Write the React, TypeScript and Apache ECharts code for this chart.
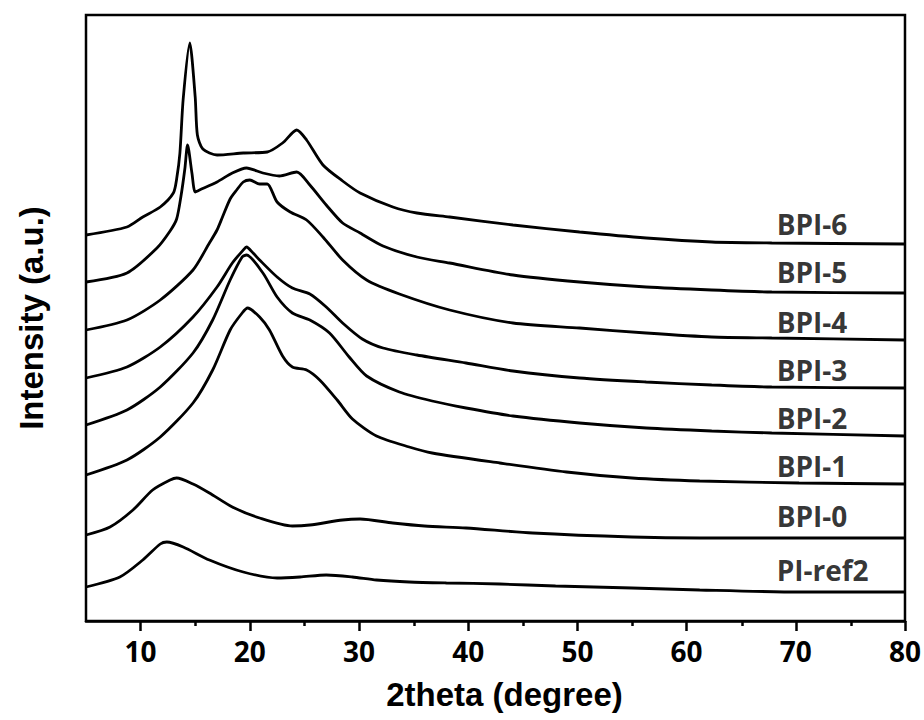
import React, { useEffect, useRef } from "react";
import * as echarts from "echarts";

const X_TICKS = [10, 20, 30, 40, 50, 60, 70, 80];
const X_MINOR = [15, 25, 35, 45, 55, 65, 75];

const SERIES_NAMES = ["BPI-6", "BPI-5", "BPI-4", "BPI-3", "BPI-2", "BPI-1", "BPI-0", "PI-ref2"];
const LABEL_THETA = 68.2;
const LABEL_LEVELS = [397, 349, 299, 251, 203, 155, 105, 51];

const BPI6: [number, number][] = [
  [5, 386], [8.75, 394], [10.2, 404], [11.8, 414], [13.0, 428], [13.3, 442], [13.6, 468],
  [13.9, 522], [14.5, 578], [15.0, 524], [15.2, 486], [15.7, 472], [17.0, 466], [19.4, 468],
  [21.6, 469], [23.0, 478], [24.3, 491], [25.2, 481], [26.7, 456], [28.5, 440], [30.1, 428],
  [33.1, 414], [35.3, 408], [38.3, 404], [44.1, 396], [50.2, 389], [56.3, 383], [62.3, 379],
  [67.8, 378], [80, 377],
];
const BPI5: [number, number][] = [
  [5, 339], [8.75, 348], [11.5, 373], [12.7, 390], [13.3, 402], [13.7, 425], [14.05, 452],
  [14.3, 476], [14.7, 448], [15.0, 429], [15.4, 431], [17.0, 439], [18.4, 448], [19.7, 453],
  [21.2, 448], [22.7, 445], [24.3, 449], [25.5, 436], [27.0, 416], [28.5, 398], [30.1, 388],
  [32.2, 375], [35.3, 364], [38.3, 358], [44.1, 346], [50.2, 339], [56.3, 334], [62.3, 331],
  [67.8, 329], [80, 328],
];
const BPI4: [number, number][] = [
  [5, 291], [8.75, 301], [11.8, 321], [14.8, 351], [16.3, 378], [17.0, 391], [17.5, 404],
  [18.2, 422], [18.8, 431], [19.4, 439], [20.0, 441], [20.9, 437], [21.6, 437], [22.5, 419],
  [23.7, 409], [25.2, 401], [26.7, 384], [28.5, 361], [30.7, 341], [33.7, 327], [38.3, 311],
  [44.1, 298], [50.2, 293], [56.3, 288], [62.3, 284], [67.8, 283], [80, 281],
];
const BPI3: [number, number][] = [
  [5, 243], [8.75, 254], [11.8, 274], [14.8, 304], [17.0, 334], [18.4, 358], [19.4, 371],
  [19.7, 374], [20.3, 368], [20.9, 361], [22.5, 344], [23.9, 333], [25.5, 327], [27.0, 314],
  [28.5, 298], [30.3, 282], [32.2, 273], [35.3, 266], [39.8, 258], [44.1, 250], [50.2, 243],
  [56.3, 239], [62.3, 236], [67.8, 234], [80, 233],
];
const BPI2: [number, number][] = [
  [5, 196], [8.75, 211], [11.8, 234], [14.8, 268], [16.6, 301], [18.2, 341], [19.3, 364],
  [19.7, 366], [21.2, 348], [22.5, 324], [23.9, 308], [25.5, 301], [27.3, 288], [29.1, 264],
  [30.7, 245], [33.7, 229], [36.7, 220], [39.8, 213], [44.1, 205], [50.2, 198], [56.3, 193],
  [62.3, 190], [67.8, 188], [80, 185],
];
const BPI1: [number, number][] = [
  [5, 146], [8.75, 161], [11.8, 184], [14.8, 218], [16.6, 251], [18.2, 291], [19.3, 308],
  [19.8, 313], [20.9, 304], [21.8, 291], [23.0, 265], [23.9, 254], [25.2, 251], [26.4, 241],
  [28.0, 221], [29.4, 202], [31.6, 185], [34.6, 174], [36.7, 168], [42.9, 158], [49.0, 149],
  [55.0, 143], [61.2, 140], [70.3, 138], [80, 137],
];
const BPI0: [number, number][] = [
  [5, 86], [7.2, 94], [9.3, 111], [11.1, 131], [12.7, 141], [13.3, 143], [14.8, 137],
  [16.3, 128], [18.4, 114], [20.9, 103], [23.9, 95], [25.5, 96], [28.5, 101], [30.1, 102],
  [33.1, 98], [36.0, 95], [39.8, 93], [45.9, 88], [55.0, 84], [61.2, 83], [70.3, 83], [80, 83],
];
const PIREF2: [number, number][] = [
  [5, 34], [8.1, 44], [10.2, 61], [11.8, 77], [12.4, 79], [13.9, 74], [16.3, 61], [19.4, 49],
  [22.5, 43], [24.6, 44], [27.0, 46], [29.4, 44], [31.6, 41], [34.6, 39], [38.0, 38],
  [42.9, 37], [48.0, 35], [55.0, 33], [61.2, 31], [70.3, 29], [80, 29],
];

const CURVES = [BPI6, BPI5, BPI4, BPI3, BPI2, BPI1, BPI0, PIREF2];

export default function App() {
  const ref = useRef<HTMLDivElement>(null);
  useEffect(() => {
    if (!ref.current) return;
    const chart = echarts.init(ref.current, undefined, { renderer: "svg" });
    const gridBox = { left: 86, right: 18, top: 15, bottom: 99 };
    const lineSeries = CURVES.map((c, i) => ({
      name: SERIES_NAMES[i],
      type: "line",
      data: c,
      showSymbol: false,
      smooth: 0.25,
      lineStyle: { color: "#000", width: 2.8 },
      xAxisIndex: 0,
      yAxisIndex: 0,
      z: 3,
    }));
    const labelSeries = {
      type: "scatter",
      xAxisIndex: 0,
      yAxisIndex: 0,
      symbolSize: 1,
      itemStyle: { color: "rgba(0,0,0,0)" },
      data: SERIES_NAMES.map((n, i) => ({ name: n, value: [LABEL_THETA, LABEL_LEVELS[i]] })),
      label: {
        show: true,
        position: "right",
        distance: 0,
        formatter: "{b}",
        color: "#000",
        fontSize: 28,
        fontWeight: "bold",
        fontFamily: "Open Sans",
      },
      z: 5,
    };
    chart.setOption({
      animation: false,
      backgroundColor: "#fff",
      grid: [
        { ...gridBox, show: true, borderColor: "#000", borderWidth: 2.5, backgroundColor: "transparent" },
        { ...gridBox, show: false },
      ],
      xAxis: [
        {
          type: "value",
          gridIndex: 0,
          min: 5,
          max: 80,
          position: "bottom",
          axisLine: { show: true, lineStyle: { color: "#000", width: 2.5 } },
          axisTick: { show: true, customValues: X_TICKS, length: 10, lineStyle: { color: "#000", width: 2.5 } },
          axisLabel: {
            customValues: X_TICKS,
            color: "#000",
            fontSize: 28,
            fontWeight: "bold",
            fontFamily: "Open Sans",
            margin: 16,
          },
          splitLine: { show: false },
          name: "2theta (degree)",
          nameLocation: "middle",
          nameGap: 57,
          nameTextStyle: {
            color: "#000",
            fontSize: 33,
            fontWeight: "bold",
            fontFamily: "Liberation Sans",
            padding: [0, 0, 0, 18],
          },
        },
        {
          type: "value",
          gridIndex: 1,
          min: 5,
          max: 80,
          position: "bottom",
          axisLine: { show: false },
          axisTick: { show: true, customValues: X_MINOR, length: 5, lineStyle: { color: "#000", width: 2.5 } },
          axisLabel: { show: false },
          splitLine: { show: false },
        },
      ],
      yAxis: [
        {
          type: "value",
          gridIndex: 0,
          min: 0,
          max: 606,
          axisLine: { show: false },
          axisTick: { show: false },
          axisLabel: { show: false },
          splitLine: { show: false },
          name: "Intensity (a.u.)",
          nameLocation: "middle",
          nameRotate: 90,
          nameGap: 38,
          nameTextStyle: { color: "#000", fontSize: 33, fontWeight: "bold", fontFamily: "Liberation Sans" },
        },
        {
          type: "value",
          gridIndex: 1,
          min: 0,
          max: 606,
          show: false,
        },
      ],
      series: [...lineSeries, labelSeries],
    });
    return () => chart.dispose();
  }, []);
  return (
    <div
      ref={ref}
      style={{ position: "fixed", left: 0, top: 0, width: 924, height: 720, background: "#fff" }}
    />
  );
}
